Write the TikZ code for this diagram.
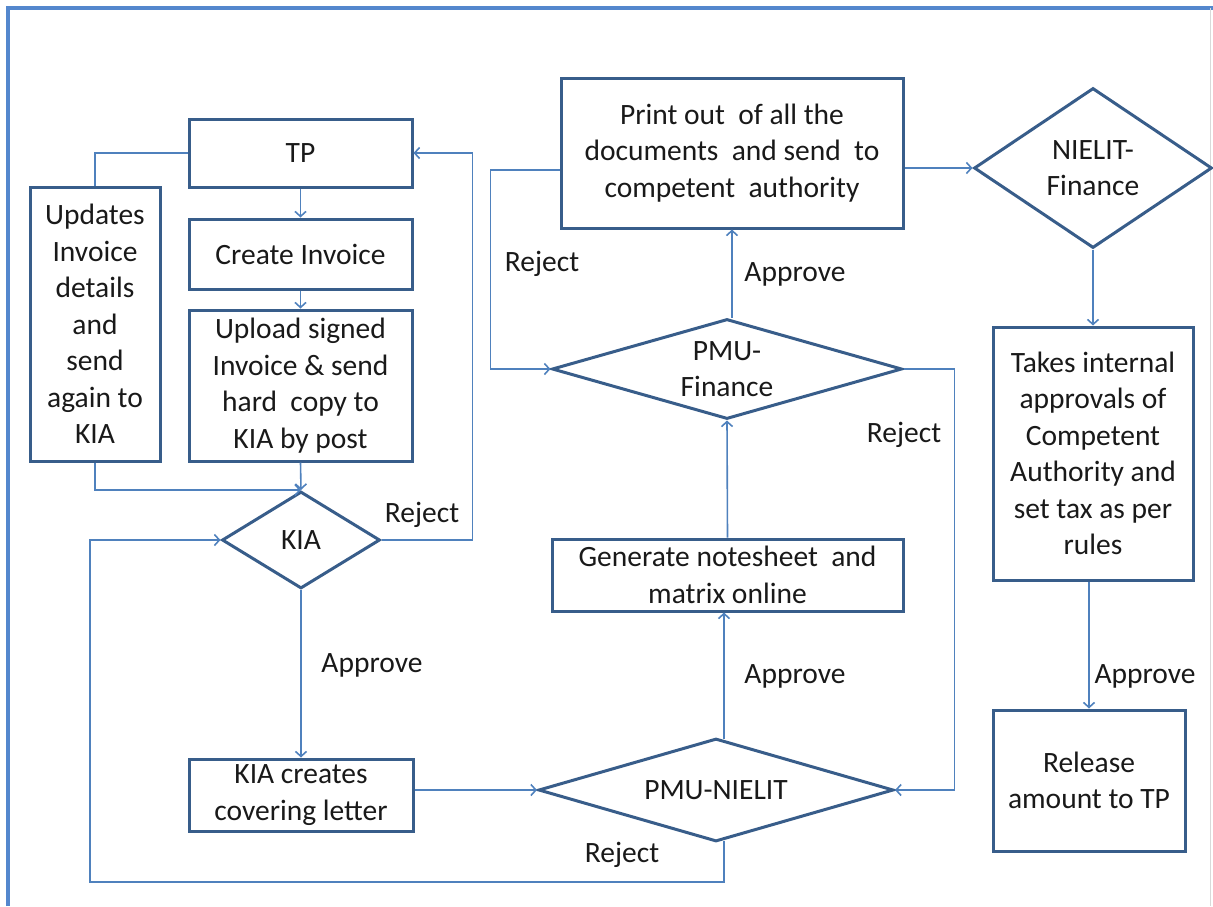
\documentclass[tikz,border=0pt]{standalone}
\usepackage{fontspec}
\setmainfont{Carlito}
\usetikzlibrary{shapes.geometric,arrows.meta,calc}
\definecolor{boxblue}{RGB}{56,93,138}
\definecolor{linkblue}{RGB}{79,129,189}
\definecolor{frameblue}{RGB}{84,135,205}
\begin{document}
\begin{tikzpicture}[x=1pt,y=-1pt,
  every node/.style={font=\fontsize{29.5}{36.5}\selectfont, text=black!90},
  procbox/.style={draw=boxblue, line width=3pt, rectangle, inner sep=0pt, align=center},
  decision/.style={draw=boxblue, line width=3pt, diamond, inner sep=0pt},
  link/.style={draw=linkblue, line width=1.6pt},
  arr/.style={link, -{Straight Barb[length=5pt,width=11pt]}},
  lbl/.style={inner sep=0pt}
]
\useasboundingbox (0,0) rectangle (1213,906);
% frame
\draw[frameblue, line width=3.5pt] (8,906) -- (8,8) -- (1213,8);
\draw[black!15, line width=1pt] (1210,8) -- (1210,906);

% boxes
\node[procbox, minimum width=223pt, minimum height=68pt] (tp) at (300.5,153) {TP};
\node[procbox, minimum width=223pt, minimum height=70pt] (create) at (300.5,254) {Create Invoice};
\node[procbox, minimum width=223pt, minimum height=151pt] (upload) at (300.5,385.5) {Upload signed\\Invoice \& send\\hard~ copy to\\KIA by post};
\node[procbox, minimum width=130pt, minimum height=274pt] (upd) at (95,324) {Updates\\Invoice\\details\\and\\send\\again to\\KIA};
\node[procbox, minimum width=224pt, minimum height=72pt] (kcl) at (301,795) {KIA creates\\covering letter};
\node[procbox, minimum width=342pt, minimum height=150pt] (print) at (732,153) {Print out~ of all the\\documents~ and send~ to\\competent~ authority};
\node[procbox, minimum width=351pt, minimum height=72pt] (gen) at (727.5,575) {Generate notesheet~ and\\matrix online};
\node[procbox, minimum width=200pt, minimum height=253pt] (takes) at (1093,453.5) {Takes internal\\approvals of\\Competent\\Authority and\\set tax as per\\rules};
\node[procbox, minimum width=192pt, minimum height=141pt] (rel) at (1089,780.5) {Release\\amount to TP};

% decisions
\node[decision, minimum width=158pt, minimum height=97pt, label={[align=center]center:KIA}] (kia) at (301,540) {};
\node[decision, minimum width=350pt, minimum height=100pt, label={[align=center]center:PMU-\\Finance}] (pmuf) at (727,369) {};
\node[decision, minimum width=355pt, minimum height=103pt, label={[align=center]center:PMU-NIELIT}] (pmun) at (716,790) {};
\node[decision, minimum width=238pt, minimum height=160pt, label={[align=center]center:NIELIT-\\Finance}] (nf) at (1093,168) {};

% labels
\node[lbl] (lrej1) at (422,515) {Reject};
\node[lbl] (lapp1) at (372,665) {Approve};
\node[lbl] (lrej2) at (542,264) {Reject};
\node[lbl] (lapp2) at (795,274) {Approve};
\node[lbl] (lrej3) at (904,435) {Reject};
\node[lbl] (lapp3) at (795,676) {Approve};
\node[lbl] (lrej4) at (622,855) {Reject};
\node[lbl] (lapp4) at (1145,676) {Approve};

% helper coordinates
\coordinate (pnTop) at ($(pmun.north)+(8,2.3)$);
\coordinate (pnBot) at ($(pmun.south)+(8,-2.3)$);

% connectors
\draw[link] (tp.west) -| (upd.north);
\draw[arr] (tp.south) -- (create.north);
\draw[arr] (create.south) -- (upload.north);
\draw[arr] (upload.south) -- (kia.north);
\draw[arr] (upd.south) |- (kia.north);
\draw[arr] (kia.east) -- ++(91,0) |- (tp.east);
\draw[arr] (kia.south) -- (kcl.north);
\draw[arr] (kcl.east |- pmun.west) -- (pmun.west);
\draw[arr] (pnTop) -- (pnTop |- gen.south);
\draw[arr] (pnBot) |- (90,882) |- (kia.west);
\draw[arr] (gen.north) -- (pmuf.south);
\draw[arr] (print.south |- pmuf.north) -- (print.south);
\draw[arr] (pmuf.east) -- ++(51,0) |- (pmun.east);
\draw[arr] ([yshift=-17pt]print.west) -- ++(-69,0) |- (pmuf.west);
\draw[arr] ([yshift=-15pt]print.east) -- (nf.west);
\draw[arr] (nf.south) -- (takes.north);
\draw[arr] (rel.north |- takes.south) -- (rel.north);
\end{tikzpicture}
\end{document}
